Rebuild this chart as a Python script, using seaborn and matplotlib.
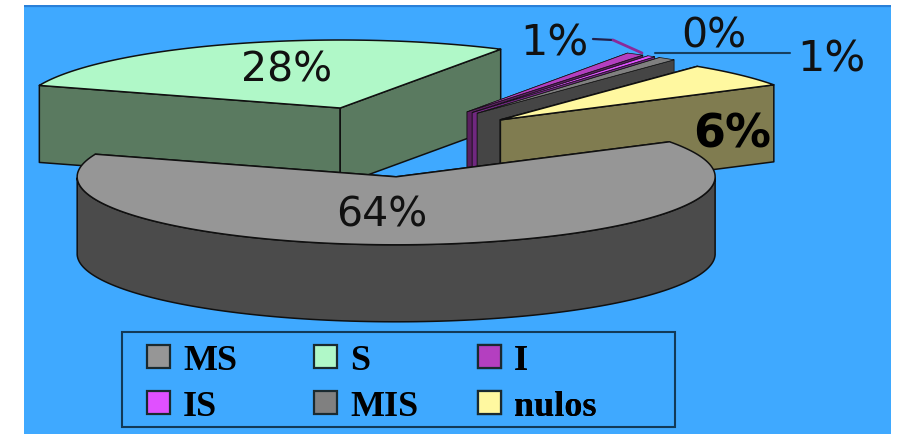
import numpy as np
import matplotlib
matplotlib.use("Agg")
import matplotlib.pyplot as plt
from matplotlib.patches import Patch, Polygon, Rectangle
from matplotlib.transforms import IdentityTransform
import seaborn as sns

categories = ["MS", "S", "I", "IS", "MIS", "nulos"]
shares = [64.0, 28.0, 0.9, 0.4, 0.9, 5.8]
top_colors = ["#969696", "#b0f8c8", "#b43fc0", "#e050ff", "#808080", "#fff8a0"]

sns.set_style("white")
palette = sns.color_palette(top_colors)
wall_colors = [tuple(c * 0.5 for c in col) for col in palette]
wall_colors[1] = "#5a7a60"
wall_colors[4] = "#454545"
wall_colors[0] = "#4b4b4b"

W, H, DPI = 899, 435, 100
fig = plt.figure(figsize=(W / DPI, H / DPI), dpi=DPI, facecolor="white")
# Axes measured in pixels so the projected pie keeps its proportions.
ax = fig.add_axes([24 / W, 0, (891 - 24) / W, (H - 6) / H], facecolor="#3fa9ff")
ax.set_xlim(24, 891)
ax.set_ylim(435, 6)
ax.set_xticks([])
ax.set_yticks([])
sns.despine(ax=ax, left=True, bottom=True)
ax.axhline(7, color="#2a80d8", lw=1.6, zorder=1)

# Projection of the tilted, exploded pie.
CX, CY = 388, 140
RX, RY = 319, 68
DEPTH = 77
EXPLODE = 0.47
START = 31.0
NUDGE = {0: (-7, 6), 1: (4, -1), 5: (0, 2)}


def rim(ax0, ay0, angles):
    a = np.radians(angles)
    return np.column_stack([ax0 + RX * np.cos(a), ay0 - RY * np.sin(a)])


spans = np.array(shares) / sum(shares) * 360
highs = START - np.concatenate([[0], np.cumsum(spans)[:-1]])
lows = highs - spans


def draw_slice(i, z):
    mid = np.radians((highs[i] + lows[i]) / 2)
    dx, dy = NUDGE.get(i, (0, 0))
    ax0 = CX + EXPLODE * RX * np.cos(mid) + dx
    ay0 = CY - EXPLODE * RY * np.sin(mid) + dy
    angles = np.linspace(highs[i], lows[i], 160)
    arc = rim(ax0, ay0, angles)
    drop = np.array([0, DEPTH])
    apex = np.array([ax0, ay0])
    # Thin slices get a finer outline so their fill stays visible.
    edge = dict(edgecolor="#101010", linewidth=0.5 if spans[i] < 5 else 1.1,
                joinstyle="round")

    for end in (arc[0], arc[-1]):
        face = np.array([apex, end, end + drop, apex + drop])
        ax.add_patch(Polygon(face, facecolor=wall_colors[i], zorder=z, **edge))

    front = np.sin(np.radians(angles)) <= 0
    if front.any():
        lip = arc[front]
        ax.add_patch(Polygon(np.vstack([lip, (lip + drop)[::-1]]),
                             facecolor=wall_colors[i], zorder=z + 0.1, **edge))

    ax.add_patch(Polygon(np.vstack([apex, arc]), facecolor=palette[i], zorder=z + 0.2, **edge))


for z, i in enumerate([1, 2, 3, 4, 5, 0]):
    draw_slice(i, 2 + z)

# Percentage labels
labels = [f"{v:.0f}%" for v in shares]
label_font = dict(family="DejaVu Sans", fontsize=29.5, color="#111111",
                  ha="center", va="center", zorder=20)
ax.text(382, 216, labels[0], **label_font)
ax.text(287, 71, labels[1], **label_font)
ax.text(554, 44, labels[2], **{**label_font, "fontsize": 31})
ax.text(714, 37, labels[3], **label_font)
ax.text(831, 59, labels[4], **{**label_font, "fontsize": 31})
ax.text(732, 135, labels[5], **{**label_font, "fontsize": 33, "fontweight": "bold", "color": "black"})

# Leader lines
ax.plot([593, 613], [40, 41], color="#22204a", lw=1.6, zorder=19)
ax.plot([613, 642], [41, 54], color="#8a2a9a", lw=2.0, zorder=19)
ax.plot([655, 790], [54, 54], color="#163f60", lw=1.5, zorder=19)

# Legend: one box per column, because the columns are not evenly spaced.
ax.add_patch(Rectangle((122, 333), 553, 95, fill=False, edgecolor="#123a58",
                       linewidth=1.5, zorder=24))
handles = [Patch(facecolor=c, edgecolor="#1a2a30", linewidth=1.6, label=n)
           for c, n in zip(palette, categories)]
columns = [((0, 3), 147), ((1, 4), 314), ((2, 5), 478)]
for members, left in columns:
    leg = ax.legend(
        handles=[handles[k] for k in members],
        loc="lower left",
        bbox_to_anchor=(left, 435 - 424),
        bbox_transform=IdentityTransform(),
        prop={"family": "Liberation Serif", "weight": "bold", "size": 26},
        labelcolor="black",
        frameon=False,
        handlelength=0.64,
        handleheight=0.61,
        handletextpad=0.36,
        labelspacing=0.36,
        borderpad=0,
        borderaxespad=0,
    )
    leg.set_zorder(25)
    ax.add_artist(leg)

fig.savefig("out.png", dpi=DPI, facecolor="white")
